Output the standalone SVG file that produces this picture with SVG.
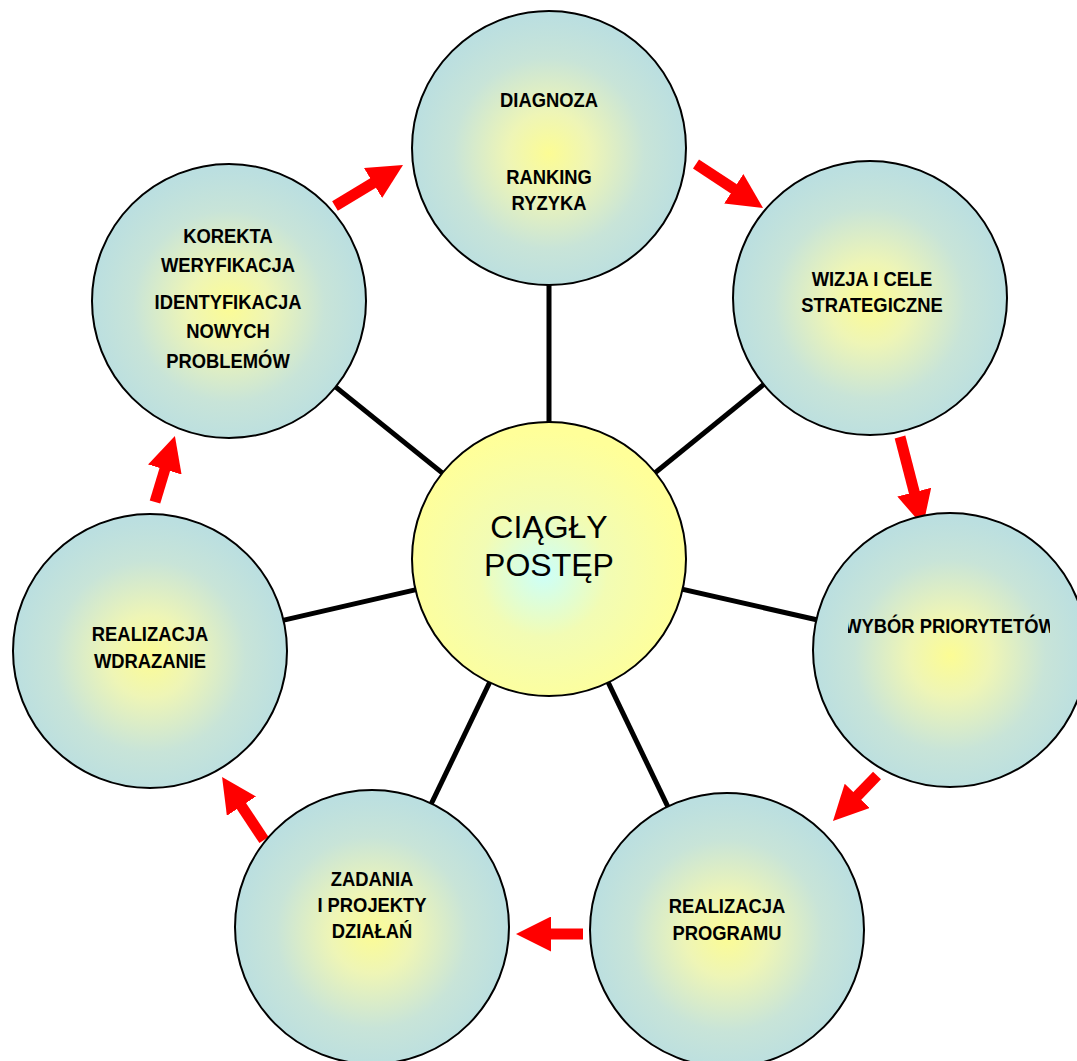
<svg xmlns="http://www.w3.org/2000/svg" width="1077" height="1061" viewBox="0 0 1077 1061">
<style>
.node{fill:url(#gNode);stroke:#000;stroke-width:2}
.hub{fill:url(#gHub);stroke:#000;stroke-width:2}
.lbl{font-family:"Liberation Sans",Arial,sans-serif;font-weight:bold;font-size:21px;fill:#000;text-anchor:middle}
.hubt{font-family:"Liberation Sans",Arial,sans-serif;font-size:32px;fill:#000;text-anchor:middle}
.spoke{stroke:#000;stroke-width:5;fill:none}
.flow{stroke:#FF0000;stroke-width:11;fill:none;marker-end:url(#head)}
</style>
<defs>
<radialGradient id="gNode" cx="50%" cy="52%" r="50%">
<stop offset="0" stop-color="#FCFC94"/>
<stop offset="0.3" stop-color="#EEF5B6"/>
<stop offset="0.7" stop-color="#C8E4D8"/>
<stop offset="1" stop-color="#BBDFE0"/>
</radialGradient>
<radialGradient id="gHub" cx="48%" cy="55%" r="52%">
<stop offset="0" stop-color="#CCFFFA"/>
<stop offset="0.45" stop-color="#F2FCB4"/>
<stop offset="1" stop-color="#FFFF99"/>
</radialGradient>
<marker id="head" markerUnits="userSpaceOnUse" viewBox="0 0 35 35" markerWidth="35" markerHeight="35" refX="1" refY="17.5" orient="auto">
<path d="M0,0 L35,17.5 L0,35 z" fill="#FF0000"/>
</marker>
<clipPath id="clipWybor"><rect x="848" y="600" width="202" height="50"/></clipPath>
</defs>

<g id="connectors">
<line class="spoke" x1="549" y1="559" x2="549" y2="148"/>
<line class="spoke" x1="549" y1="559" x2="870" y2="298"/>
<line class="spoke" x1="549" y1="559" x2="950" y2="650"/>
<line class="spoke" x1="549" y1="559" x2="727" y2="930"/>
<line class="spoke" x1="549" y1="559" x2="372" y2="927"/>
<line class="spoke" x1="549" y1="559" x2="150" y2="651"/>
<line class="spoke" x1="549" y1="559" x2="229" y2="301"/>
<line class="flow" x1="335" y1="206" x2="373.9" y2="182.5"/>
<line class="flow" x1="696" y1="164" x2="734.6" y2="189.3"/>
<line class="flow" x1="900" y1="437" x2="914.5" y2="493.1"/>
<line class="flow" x1="877" y1="775.5" x2="856.6" y2="796.6"/>
<line class="flow" x1="583" y1="934" x2="550" y2="934"/>
<line class="flow" x1="264" y1="840" x2="240.9" y2="805.3"/>
<line class="flow" x1="155" y1="502" x2="165.1" y2="468.5"/>
</g>

<g id="node-diagnoza">
<circle class="node" cx="549" cy="148" r="137"/>
<g transform="translate(549,0) scale(0.875,1)">
<text class="lbl" x="0" y="107">DIAGNOZA</text>
<text class="lbl" x="0" y="184">RANKING</text>
<text class="lbl" x="0" y="210">RYZYKA</text>
</g>
</g>

<g id="node-wizja">
<circle class="node" cx="870" cy="298" r="137"/>
<g transform="translate(872,0) scale(0.875,1)">
<text class="lbl" x="0" y="286">WIZJA I CELE</text>
<text class="lbl" x="0" y="312">STRATEGICZNE</text>
</g>
</g>

<g id="node-wybor">
<circle class="node" cx="950" cy="650" r="137"/>
<g clip-path="url(#clipWybor)">
<g transform="translate(950,0) scale(0.875,1)">
<text class="lbl" x="0" y="633">WYBÓR PRIORYTETÓW</text>
</g>
</g>
</g>

<g id="node-program">
<circle class="node" cx="727" cy="930" r="137"/>
<g transform="translate(727,0) scale(0.875,1)">
<text class="lbl" x="0" y="913">REALIZACJA</text>
<text class="lbl" x="0" y="940">PROGRAMU</text>
</g>
</g>

<g id="node-zadania">
<circle class="node" cx="372" cy="927" r="137"/>
<g transform="translate(372,0) scale(0.875,1)">
<text class="lbl" x="0" y="886">ZADANIA</text>
<text class="lbl" x="0" y="912">I PROJEKTY</text>
<text class="lbl" x="0" y="938">DZIAŁAŃ</text>
</g>
</g>

<g id="node-wdrazanie">
<circle class="node" cx="150" cy="651" r="137"/>
<g transform="translate(150,0) scale(0.875,1)">
<text class="lbl" x="0" y="641">REALIZACJA</text>
<text class="lbl" x="0" y="668">WDRAZANIE</text>
</g>
</g>

<g id="node-korekta">
<circle class="node" cx="229" cy="301" r="137"/>
<g transform="translate(228,0) scale(0.875,1)">
<text class="lbl" x="0" y="243">KOREKTA</text>
<text class="lbl" x="0" y="272">WERYFIKACJA</text>
<text class="lbl" x="0" y="309">IDENTYFIKACJA</text>
<text class="lbl" x="0" y="338">NOWYCH</text>
<text class="lbl" x="0" y="368">PROBLEMÓW</text>
</g>
</g>

<g id="node-hub">
<circle class="hub" cx="549" cy="559" r="137"/>
<text class="hubt" x="549" y="538">CIĄGŁY</text>
<text class="hubt" x="549" y="576">POSTĘP</text>
</g>
</svg>
